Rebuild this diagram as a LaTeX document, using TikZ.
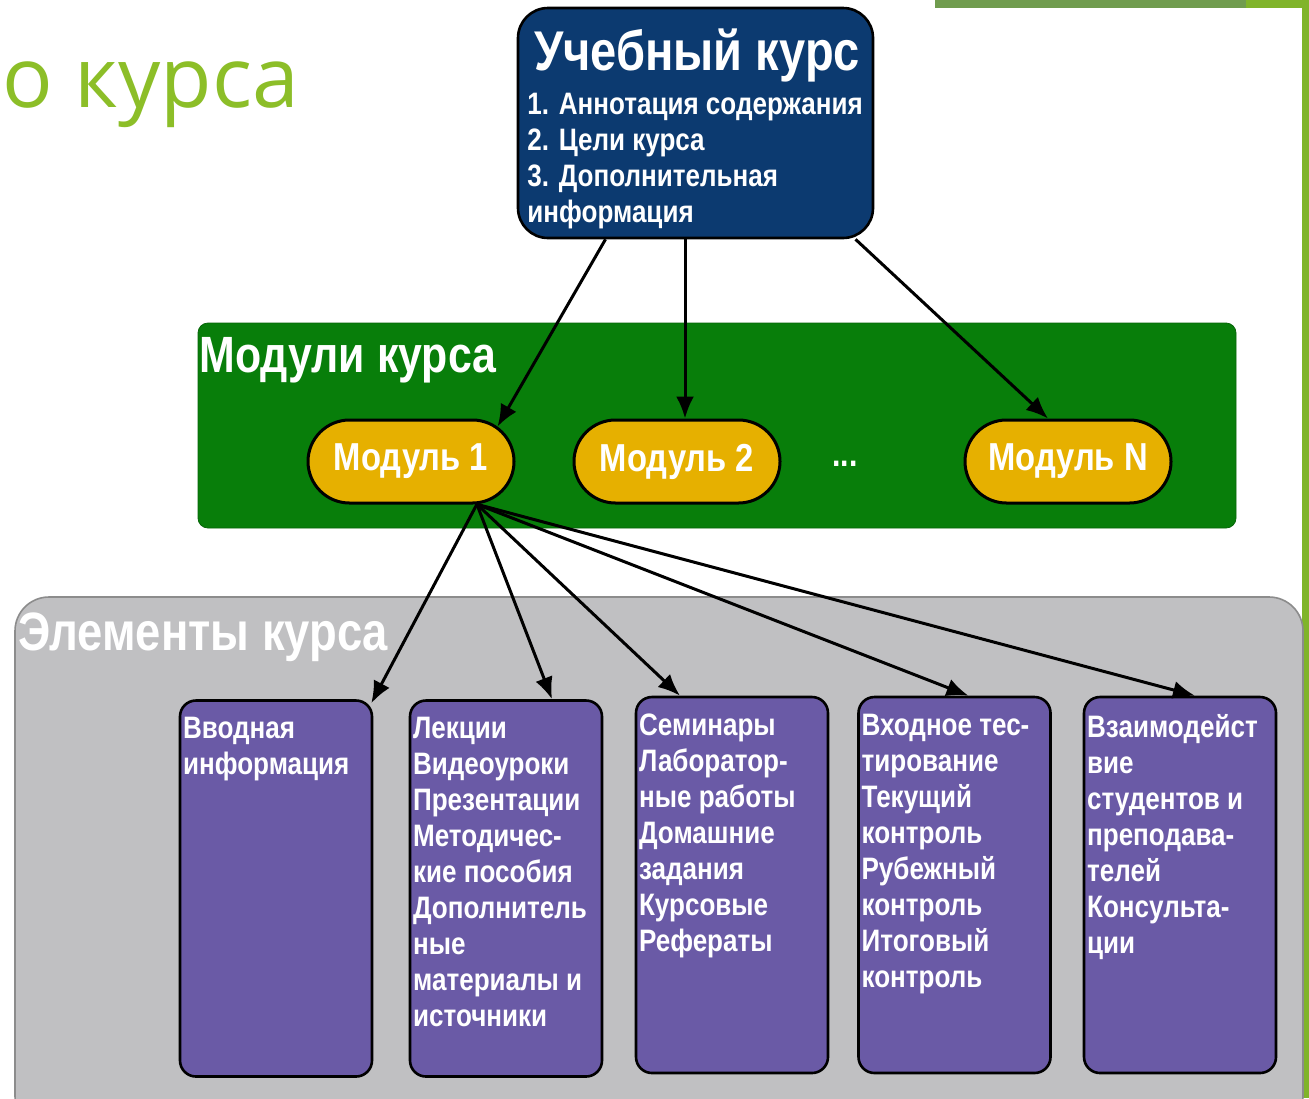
\documentclass[tikz,border=0pt]{standalone}
\usepackage{fontspec}
\setmainfont{Liberation Sans}
\newfontfamily\dfont[FakeStretch=0.84]{Liberation Sans}
\newfontfamily\tfont{Open Sans}
\usepackage{tikz}
\usetikzlibrary{calc,arrows.meta,shapes.misc,positioning}
\definecolor{mynavy}{RGB}{12,58,112}
\definecolor{mygreen}{RGB}{8,126,10}
\definecolor{mygold}{RGB}{230,176,0}
\definecolor{mygray}{RGB}{192,192,194}
\definecolor{mygray2}{RGB}{140,140,140}
\definecolor{mypurple}{RGB}{106,90,166}
\definecolor{titlegreen}{RGB}{140,190,40}
\definecolor{decogreen}{RGB}{112,156,78}
\definecolor{decolime}{RGB}{128,180,42}
\tikzset{>={Latex[length=11pt,width=9pt]}}
\tikzset{
  arr/.style={->, line width=1.5pt},
  pill/.style={rounded rectangle, draw=black, line width=1.5pt, fill=mygold,
    minimum width=103pt, minimum height=41.5pt, inner sep=0pt, text=white,
    font=\dfont\bfseries\fontsize{19.5}{21}\selectfont},
  elembox/.style={draw=black, line width=1.3pt, fill=mypurple, rounded corners=8pt,
    minimum width=96pt, minimum height=188pt, inner sep=0pt},
  elemtext/.style={text=white, align=left, anchor=north west, inner sep=0pt,
    font=\dfont\bfseries\fontsize{15.5}{18}\selectfont},
  bandtitle/.style={text=white, anchor=base west, inner sep=0pt,
    font=\dfont\bfseries\fontsize{26}{28}\selectfont},
}

\begin{document}
\begin{tikzpicture}[x=0.5pt,y=-0.5pt]
\useasboundingbox (0,0) rectangle (1309,1098);
\clip (0,0) rectangle (1309,1098);
\fill[white] (0,0) rectangle (1309,1098);
\fill[decogreen] (935,0) rectangle (1246,8);
\fill[decolime] (1246,0) rectangle (1309,8);
\fill[decolime] (1302,8) rectangle (1309,1098);
\node[anchor=base west, inner sep=0pt, text=titlegreen, font=\tfont\fontsize{42}{44}\selectfont] (title) at (2,107) {о курса};
\draw[fill=mygreen, draw=mygreen!80!black, rounded corners=5pt] (198,323) rectangle (1236,528);
\node[bandtitle, font=\dfont\bfseries\fontsize{25.5}{28}\selectfont] (modtitle) at (199,372) {Модули курса};
\draw[fill=mygray, draw=mygray2, line width=0.8pt, rounded corners=17pt] (15,597) rectangle (1303,1130);
\node[bandtitle, font=\dfont\bfseries\fontsize{27}{28}\selectfont] (eltitle) at (18,650) {Элементы курса};
\node[draw=black, line width=1.3pt, fill=mynavy, rounded corners=15pt, minimum width=177.5pt, minimum height=115pt] (course) at (695.5,123) {};
\node[anchor=base, inner sep=0pt, text=white, font=\dfont\bfseries\fontsize{28}{30}\selectfont] (coursetitle) at (697,70) {Учебный курс};
\node[anchor=north west, inner sep=0pt, align=left, text=white, font=\dfont\bfseries\fontsize{15.5}{18}\selectfont] (coursetext) at (527,93) {1. Аннотация содержания\\2. Цели курса\\3. Дополнительная\\информация};
\node[pill] (m1) at (411,461.5) {Модуль 1};
\node[pill] (m2) at (677,461.5) {Модуль 2};
\node[pill] (mN) at (1068,461.5) {Модуль N};
\node[text=white, font=\dfont\bfseries\fontsize{18}{20}\selectfont] (dots) at (845,464) {...};
\node[elembox] (e1) at (276,888.5) {};
\node[elembox] (e2) at (506,888.5) {};
\node[elembox] (e3) at (732,885) {};
\node[elembox] (e4) at (954.5,885) {};
\node[elembox] (e5) at (1180,885) {};
\node[elemtext] (t1) at ($(e1.north west)+(4,18)$) {Вводная\\информация};
\node[elemtext] (t2) at ($(e2.north west)+(4,18)$) {Лекции\\Видеоуроки\\Презентации\\Методичес-\\кие пособия\\Дополнитель\\ные\\материалы и\\источники};
\node[elemtext] (t3) at ($(e3.north west)+(4,18)$) {Семинары\\Лаборатор-\\ные работы\\Домашние\\задания\\Курсовые\\Рефераты};
\node[elemtext] (t4) at ($(e4.north west)+(4,18)$) {Входное тес-\\тирование\\Текущий\\контроль\\Рубежный\\контроль\\Итоговый\\контроль};
\node[elemtext] (t5) at ($(e5.north west)+(4,18)$) {Взаимодейст\\вие\\студентов и\\преподава-\\телей\\Консульта-\\ции};
\draw[arr] ([xshift=-45pt]course.south) -- (m1.22);
\draw[arr] ([xshift=-5.25pt]course.south) -- ([xshift=4pt]m2.north);
\draw[arr] ([xshift=80pt]course.south) -- ([xshift=-10pt]mN.north);
\draw[arr] (m1.-33) -- ([xshift=-1pt,yshift=-2pt]e1.north east);
\draw[arr] (m1.-33) -- ([xshift=23pt]e2.north);
\draw[arr] (m1.-33) -- ([xshift=-26pt]e3.north);
\draw[arr] (m1.-33) -- ([xshift=7pt]e4.north);
\draw[arr] (m1.-33) -- ([xshift=7.5pt]e5.north);
\end{tikzpicture}
\end{document}
